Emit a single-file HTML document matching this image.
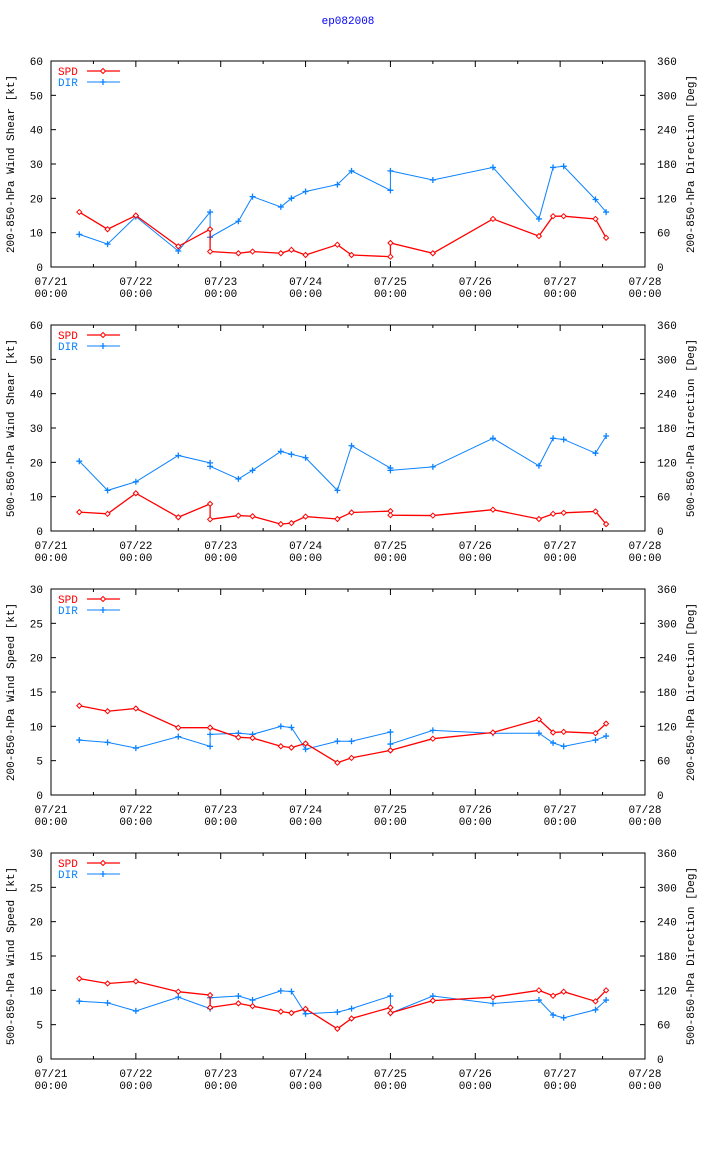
<!DOCTYPE html>
<html><head><meta charset="utf-8"><style>
body{margin:0;background:#fff;width:704px;height:1156px;overflow:hidden}
svg text{font-family:"Liberation Mono",monospace;font-size:11px}
</style></head><body>
<svg id="c" width="704" height="1156" xmlns="http://www.w3.org/2000/svg">
<text x="348" y="24" fill="#0000ff" text-anchor="middle">ep082008</text>
</svg>
<script>
// hours since 07/21 00:00
const hours=[8,16,24,36,45,45,53,57,65,68,72,81,85,96,96,108,125,138,142,145,154,157];
const xTickLabels=["07/21","07/22","07/23","07/24","07/25","07/26","07/27","07/28"];
const spd1=[16,11,15,6,11,4.5,4,4.5,4,5,3.5,6.5,3.5,3,7,4,14,9,14.8,14.8,14,8.5];
const dir1=[57,40,88,28,96,52,80,123,105,120,132,144,168,134,168,152,174,84,174,176,118,96];
const spd2=[5.5,5,11,4,7.9,3.4,4.5,4.3,2,2.3,4.2,3.5,5.4,5.8,4.6,4.5,6.2,3.5,5,5.3,5.7,2];
const dir2=[122,71,86,132,119,113,91,106,139,134,128,71,149,110,106,112,162,114,162,160,136,166];
const spd3=[13,12.2,12.6,9.8,9.8,9.8,8.4,8.3,7.1,6.9,7.5,4.7,5.4,6.5,6.5,8.2,9.1,11,9.1,9.2,9,10.4];
const dir3=[96,92,82,102,85,106,108,106,120,118,80,94,94,110,89,113,108,108,91,85,96,103];
const spd4=[11.7,11,11.3,9.8,9.3,7.5,8.1,7.7,6.9,6.7,7.3,4.4,5.9,7.5,6.7,8.5,9,10,9.2,9.8,8.4,10];
const dir4=[101,98,84,108,88,107,110,103,119,118,79,82,88,110,80,110,97,103,77,72,86,103];
const panels=[
 {top:61,lmax:60,ltick:[0,10,20,30,40,50,60],ltitle:"200-850-hPa Wind Shear [kt]",rtitle:"200-850-hPa Direction [Deg]",spd:spd1,dir:dir1},
 {top:325,lmax:60,ltick:[0,10,20,30,40,50,60],ltitle:"500-850-hPa Wind Shear [kt]",rtitle:"500-850-hPa Direction [Deg]",spd:spd2,dir:dir2},
 {top:589,lmax:30,ltick:[0,5,10,15,20,25,30],ltitle:"200-850-hPa Wind Speed [kt]",rtitle:"200-850-hPa Direction [Deg]",spd:spd3,dir:dir3},
 {top:853,lmax:30,ltick:[0,5,10,15,20,25,30],ltitle:"500-850-hPa Wind Speed [kt]",rtitle:"500-850-hPa Direction [Deg]",spd:spd4,dir:dir4}
];
const rTicks=[0,60,120,180,240,300,360];
const L=51,R=645,H=206,NS="http://www.w3.org/2000/svg";
const svg=document.getElementById('c');
function mk(tag,attrs,parent){const e=document.createElementNS(NS,tag);for(const k in attrs)e.setAttribute(k,attrs[k]);(parent||svg).appendChild(e);return e;}
const xs=h=>L+(R-L)*h/168;
panels.forEach((p,pi)=>{
 const g=mk('g',{});
 
 
 const B=p.top+H;
 const yl=v=>B-H*v/p.lmax, yr=v=>B-H*v/360;
 const frame=mk('rect',{x:L,y:p.top,width:R-L,height:H,fill:'none',stroke:'#000','stroke-width':1},g);
 
 
 p.ltick.forEach(v=>{const y=yl(v);
  mk('line',{x1:L,x2:L+5,y1:y,y2:y,stroke:'#000'},g);
  const t=mk('text',{x:L-8,y:y+4,'text-anchor':'end'},g);t.textContent=v;
  
  });
 rTicks.forEach(v=>{const y=yr(v);
  mk('line',{x1:R-5,x2:R,y1:y,y2:y,stroke:'#000'},g);
  const t=mk('text',{x:R+12,y:y+4},g);t.textContent=v;
  
  });
 for(let h=0;h<=168;h+=12){const x=xs(h),len=h%24?3:6;
  mk('line',{x1:x,x2:x,y1:B,y2:B-len,stroke:'#000'},g);
  mk('line',{x1:x,x2:x,y1:p.top,y2:p.top+len,stroke:'#000'},g);}
 xTickLabels.forEach((s,i)=>{const x=xs(i*24);
  const t=mk('text',{x:x,y:B+18,'text-anchor':'middle'},g);t.textContent=s;
  
  
  const t2=mk('text',{x:x,y:B+30,'text-anchor':'middle'},g);t2.textContent='00:00';
  
  });
 const cy=p.top+H/2;
 const lt=mk('text',{x:14,y:cy,'text-anchor':'middle',transform:`rotate(-90 14 ${cy})`},g);lt.textContent=p.ltitle;
 
 
 const rt=mk('text',{x:694,y:cy,'text-anchor':'middle',transform:`rotate(-90 694 ${cy})`},g);rt.textContent=p.rtitle;
 
 
 const spdPts=hours.map((h,i)=>[xs(h),yl(p.spd[i])]);
 const dirPts=hours.map((h,i)=>[xs(h),yr(p.dir[i])]);
 const dl=mk('polyline',{points:dirPts.map(q=>q.join(',')).join(' '),fill:'none',stroke:'#0a82ff','stroke-width':1},g);
 
 
 dirPts.forEach(q=>{const m=mk('path',{d:`M${q[0]-3},${q[1]}h6M${q[0]},${q[1]-3}v6`,stroke:'#0a82ff','stroke-width':1.3},g);
  
  });
 const sl=mk('polyline',{points:spdPts.map(q=>q.join(',')).join(' '),fill:'none',stroke:'#ff0000','stroke-width':1.3},g);
 
 
 spdPts.forEach(q=>{const m=mk('path',{d:`M${q[0]},${q[1]-2.5}l2.5,2.5l-2.5,2.5l-2.5,-2.5z`,fill:'#fff',stroke:'#ff0000','stroke-width':1},g);
  
  });
 const ly=p.top+10;
 const s1=mk('text',{x:58,y:ly+4,fill:'#ff0000'},g);s1.textContent='SPD';
 
 
 mk('line',{x1:87,x2:120,y1:ly,y2:ly,stroke:'#ff0000','stroke-width':1.3},g);
 mk('path',{d:`M103,${ly-2.5}l2.5,2.5l-2.5,2.5l-2.5,-2.5z`,fill:'#fff',stroke:'#ff0000'},g);
 const s2=mk('text',{x:58,y:ly+15,fill:'#0a82ff'},g);s2.textContent='DIR';
 
 
 mk('line',{x1:87,x2:120,y1:ly+11,y2:ly+11,stroke:'#0a82ff'},g);
 mk('path',{d:`M100,${ly+11}h6M103,${ly+8}v6`,stroke:'#0a82ff','stroke-width':1.3},g);
});
</script>
</body></html>
